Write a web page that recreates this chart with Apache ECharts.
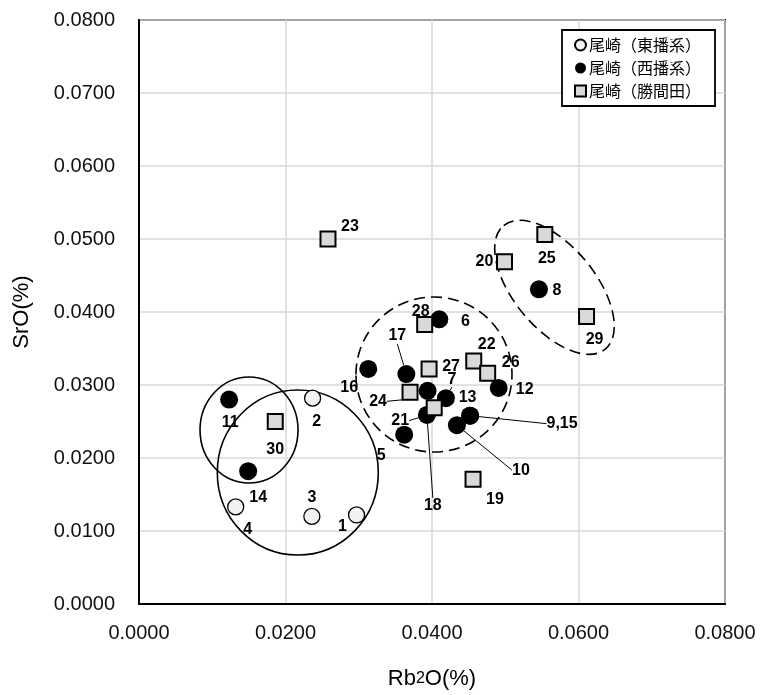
<!DOCTYPE html>
<html>
<head>
<meta charset="utf-8">
<script src="https://cdn.jsdelivr.net/npm/echarts@6/dist/echarts.min.js"></script>
<style>
  html, body { margin: 0; padding: 0; background: #fff; }
  #chart { width: 761px; height: 695px; }
</style>
</head>
<body>
<div id="chart"></div>
<script>
// 尾崎(東播系)
const eastNo = ['1', '2', '3', '4'];
const eastRb = [0.0297, 0.0237, 0.0236, 0.0132];
const eastSr = [0.0122, 0.0282, 0.0120, 0.0133];

// 尾崎(西播系)
const westNo = ['5', '6', '7', '8', '9', '10', '11', '12', '13', '14', '15', '16', '17', '18'];
const westRb = [0.0362, 0.0410, 0.0419, 0.0546, 0.0452, 0.0434, 0.0123, 0.0491, 0.0394, 0.0149, 0.0452, 0.0313, 0.0365, 0.0393];
const westSr = [0.0232, 0.0390, 0.0282, 0.0431, 0.0258, 0.0245, 0.0280, 0.0296, 0.0292, 0.0182, 0.0258, 0.0322, 0.0315, 0.0259];

// 尾崎(勝間田)
const katsuNo = ['19', '20', '21', '22', '23', '24', '25', '26', '27', '28', '29', '30'];
const katsuRb = [0.0456, 0.0499, 0.0403, 0.0457, 0.0258, 0.0370, 0.0554, 0.0476, 0.0396, 0.0390, 0.0611, 0.0186];
const katsuSr = [0.0171, 0.0469, 0.0269, 0.0333, 0.0500, 0.0290, 0.0506, 0.0316, 0.0322, 0.0383, 0.0394, 0.0250];

const seriesNames = ['尾崎（東播系）', '尾崎（西播系）', '尾崎（勝間田）'];
const xTicks = [0, 0.02, 0.04, 0.06, 0.08];
const yTicks = [0, 0.01, 0.02, 0.03, 0.04, 0.05, 0.06, 0.07, 0.08];

// label text overrides (9 and 15 share one label)
const labelText = { '9': '9,15', '15': '' };
// label shift from the marker, px
const labelShift = {
  '1': [-14, 12], '2': [4, 23], '3': [0, -19], '4': [12, 23],
  '5': [-23, 21], '6': [26, 2], '7': [6, -19], '8': [18, 1], '9': [92, 8],
  '10': [64, 45], '11': [1, 23], '12': [26, 2], '13': [40, 7], '14': [10, 26],
  '16': [-19, 19], '17': [-9, -38], '18': [6, 91],
  '19': [22, 20], '20': [-20, 0], '21': [-34, 13], '22': [13, -16], '23': [22, -12],
  '24': [-32, 9], '25': [2, 24], '26': [23, -11], '27': [22, -2], '28': [-4, -13],
  '29': [8, 23], '30': [0, 28]
};
const leaders = ['7', '9', '10', '17', '18', '21', '24'];

// group outlines: [centerRb, centerSr, radius x (Rb units), radius y (Sr units), rotate deg, dashed]
const rings = [
  [0.02168, 0.01801, 0.01099, 0.01130, 0, false],
  [0.01502, 0.02384, 0.00669, 0.00726, 0, false],
  [0.04027, 0.03144, 0.01065, 0.01062, 0, true],
  [0.05672, 0.04338, 0.01092, 0.00560, 50.6, true]
];

const chart = echarts.init(document.getElementById('chart'));

function makeSeries(idx, nos, rb, sr, symbol, size, style) {
  return {
    name: seriesNames[idx],
    type: 'scatter',
    symbol: symbol,
    symbolSize: size,
    z: 3 + idx,
    itemStyle: Object.assign({ opacity: 1 }, style),
    data: nos.map((n, i) => ({
      name: n,
      value: [rb[i], sr[i]],
      labelLine: { show: leaders.indexOf(n) >= 0 }
    })),
    label: {
      show: true,
      formatter: p => (p.name in labelText ? labelText[p.name] : p.name),
      color: '#000',
      fontFamily: 'Liberation Sans',
      fontWeight: 'bold',
      fontSize: 16
    },
    labelLine: { show: false, lineStyle: { color: '#000', width: 1 } },
    labelLayout: function (p) {
      const o = labelShift[nos[p.dataIndex]];
      if (!o) return {};
      return {
        x: p.rect.x + p.rect.width / 2 + o[0],
        y: p.rect.y + p.rect.height / 2 + o[1],
        align: 'center',
        verticalAlign: 'middle'
      };
    }
  };
}

const option = {
  animation: false,
  backgroundColor: '#fff',
  textStyle: { fontFamily: 'Liberation Sans' },
  grid: {
    left: 139, right: 36, top: 20, bottom: 91,
    show: true, borderColor: '#000', borderWidth: 2
  },
  legend: {
    orient: 'vertical',
    left: 562, top: 30,
    data: seriesNames,
    backgroundColor: '#fff',
    borderColor: '#000',
    borderWidth: 1.8,
    borderRadius: 0,
    padding: [7, 14, 7, 12],
    itemGap: 7,
    itemWidth: 11,
    itemHeight: 11,
    textStyle: { fontFamily: 'Noto Sans CJK JP', fontSize: 16, color: '#000', padding: [0, 0, 0, -2] }
  },
  xAxis: {
    type: 'value', min: 0, max: 0.08, interval: 0.02,
    name: '{a|Rb}{b|2}{a|O(%)}',
    nameLocation: 'middle', nameGap: 64,
    nameTextStyle: {
      rich: {
        a: { fontFamily: 'Liberation Sans', fontSize: 22, color: '#000' },
        b: { fontFamily: 'Liberation Sans', fontSize: 16, color: '#000' }
      }
    },
    axisLine: { show: true, lineStyle: { color: '#000', width: 2 } },
    axisTick: { show: false },
    splitLine: { lineStyle: { color: '#d9d9d9', width: 1.5 } },
    axisLabel: {
      margin: 19, fontSize: 20, color: '#111',
      formatter: v => v.toFixed(4),
      customValues: xTicks
    }
  },
  yAxis: {
    type: 'value', min: 0, max: 0.08, interval: 0.01,
    name: 'SrO(%)',
    nameLocation: 'middle', nameGap: 106,
    nameTextStyle: { fontFamily: 'Liberation Sans', fontSize: 22, color: '#000' },
    axisLine: { show: true, lineStyle: { color: '#000', width: 2 } },
    axisTick: { show: false },
    splitLine: { lineStyle: { color: '#d9d9d9', width: 1.5 } },
    axisLabel: {
      margin: 24, fontSize: 20, color: '#111',
      formatter: v => v.toFixed(4),
      customValues: yTicks
    }
  },
  series: [
    makeSeries(0, eastNo, eastRb, eastSr, 'circle', 16, { color: '#f2f2f2', borderColor: '#000', borderWidth: 1.3 }),
    makeSeries(1, westNo, westRb, westSr, 'circle', 18, { color: '#000', borderColor: '#000', borderWidth: 0 }),
    makeSeries(2, katsuNo, katsuRb, katsuSr, 'rect', 15, { color: '#d9d9d9', borderColor: '#000', borderWidth: 2 })
  ]
};

chart.setOption(option);

// draw the group outlines in axis coordinates
const p0 = chart.convertToPixel({ gridIndex: 0 }, [0, 0]);
const p1 = chart.convertToPixel({ gridIndex: 0 }, [0.08, 0.08]);
const kx = (p1[0] - p0[0]) / 0.08;
const ky = (p0[1] - p1[1]) / 0.08;
chart.setOption({
  graphic: rings.map(r => {
    const c = chart.convertToPixel({ gridIndex: 0 }, [r[0], r[1]]);
    return {
      type: 'ellipse',
      x: c[0], y: c[1],
      rotation: -r[4] * Math.PI / 180,
      z: 2,
      silent: true,
      shape: { cx: 0, cy: 0, rx: r[2] * kx, ry: r[3] * ky },
      style: {
        fill: 'none',
        stroke: '#000',
        lineWidth: 1.6,
        lineDash: r[5] ? [11, 6] : null
      }
    };
  })
});
</script>
</body>
</html>
